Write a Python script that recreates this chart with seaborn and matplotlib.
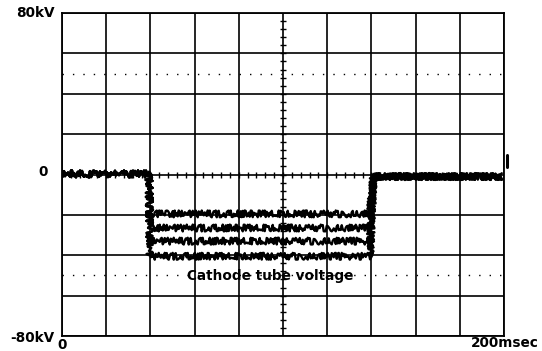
import numpy as np
import pandas as pd
import matplotlib
matplotlib.use("Agg")
import matplotlib.pyplot as plt
import seaborn as sns

# ---- data ----
time_ms = [0, 39.4, 39.7, 139.4, 140.8, 142.0, 199]
trace_1 = [0.3, 0.3, -19.5, -19.5, -2.0, -1.0, -1.0]
trace_2 = [0.3, 0.3, -26.5, -26.5, -2.0, -1.0, -1.0]
trace_3 = [0.3, 0.3, -33.0, -33.0, -2.0, -1.0, -1.0]
trace_4 = [0.3, 0.3, -40.5, -40.5, -2.0, -1.0, -1.0]
traces = [trace_1, trace_2, trace_3, trace_4]
dotted_levels = [50, -50]
y_labels = ["80kV", "0", "-80kV"]
x_labels = ["0", "200msec"]
annotation = "Cathode tube voltage"

sns.set_theme(style="white")
plt.rcParams['font.family'] = ['DejaVu Sans']
plt.rcParams['text.color'] = 'black'

W, H = 542, 351
fig = plt.figure(figsize=(W / 100, H / 100), dpi=100)
L, R, T, B = 62, 504, 13, 336
ax = fig.add_axes([L / W, 1 - B / H, (R - L) / W, (B - T) / H])
ax.set_xlim(0, 200)
ax.set_ylim(-80, 80)

# grid
for gx in np.arange(0, 201, 20):
    ax.axvline(gx, color="black", lw=1.2, zorder=1)
for gy in np.arange(-80, 81, 20):
    ax.axhline(gy, color="black", lw=1.2, zorder=1)
for lv in dotted_levels:
    ax.axhline(lv, color="black", lw=1.0, ls=(0, (1, 6.5)), zorder=1)

# minor ticks on the centre lines
mx = np.arange(4, 200, 4)
ax.plot(mx, np.zeros_like(mx), ls="none", marker="|", ms=5, mew=1.0, color="black", zorder=2)
my = np.arange(-76, 80, 4)
ax.plot(np.full_like(my, 100), my, ls="none", marker="_", ms=5, mew=1.0, color="black", zorder=2)

for spine in ax.spines.values():
    spine.set_color("black")
    spine.set_linewidth(1.3)
ax.set_xticks([])
ax.set_yticks([])

# traces
for tr in traces:
    df = pd.DataFrame({"t": time_ms, "v": tr})
    n_before = len(ax.lines)
    sns.lineplot(data=df, x="t", y="v", ax=ax, estimator=None, sort=False,
                 color="black", lw=1.7, zorder=3)
    for ln in ax.lines[n_before:]:
        ln.set_sketch_params(scale=3.4, length=0.9, randomness=3.0)
ax.set_xlabel("")
ax.set_ylabel("")

# small marker at right end
ax.plot([201.5, 201.5], [3.5, 9.5], color="black", lw=2.2, clip_on=False)

# labels
fs = 9.8
ax.text(-3.5, 80, y_labels[0], ha="right", va="center",
        fontsize=fs, fontweight="bold", clip_on=False)
ax.text(-6.5, 1.2, y_labels[1], ha="right", va="center",
        fontsize=fs, fontweight="bold", clip_on=False)
ax.text(-3.5, -81.0, y_labels[2], ha="right", va="center",
        fontsize=fs, fontweight="bold", clip_on=False)
fig.text(62 / W, 1 - 345 / H, x_labels[0], ha="center", va="center",
         fontsize=fs, fontweight="bold")
fig.text(539 / W, 1 - 343 / H, x_labels[1], ha="right", va="center",
         fontsize=fs, fontweight="bold")
ax.text(94, -50.5, annotation, ha="center", va="center", fontsize=fs,
        fontweight="bold", zorder=4)

fig.savefig("out.png", dpi=100, facecolor="white")
